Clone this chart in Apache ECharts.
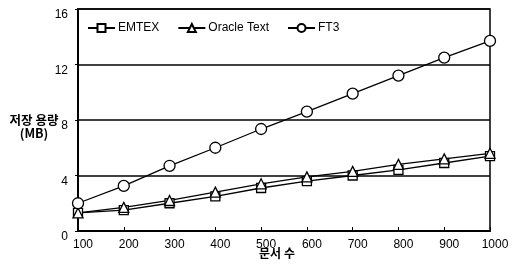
<!DOCTYPE html>
<html>
<head>
<meta charset="utf-8">
<script src="https://cdn.jsdelivr.net/npm/echarts@6/dist/echarts.min.js"></script>
<style>
  html, body { margin: 0; padding: 0; background: #fff; }
  #chart { width: 518px; height: 264px; }
</style>
</head>
<body>
<div id="chart"></div>
<script>
// 문서 수 (x축)
const docCounts = ['100', '200', '300', '400', '500', '600', '700', '800', '900', '1000'];
// 저장 용량 (MB)
const emtex = [1.3, 1.5, 2.0, 2.5, 3.1, 3.6, 4.0, 4.4, 4.9, 5.4];
const oracleText = [1.3, 1.7, 2.2, 2.8, 3.4, 3.9, 4.3, 4.8, 5.2, 5.6];
const ft3 = [2.0, 3.25, 4.7, 6.0, 7.35, 8.6, 9.9, 11.2, 12.5, 13.7];
const seriesNames = ['EMTEX', 'Oracle Text', 'FT3'];

const chart = echarts.init(document.getElementById('chart'));
const fontMain = 'Liberation Sans, Arial, sans-serif';
const fontKr = '"Noto Sans CJK KR", sans-serif';

function lineSeries(name, data, symbol, size) {
    return {
        name: name,
        type: 'line',
        data: data,
        symbol: symbol,
        symbolSize: size,
        lineStyle: { color: '#000', width: 1.3 },
        itemStyle: { color: '#fff', borderColor: '#000', borderWidth: 1.3 },
        emphasis: { disabled: true },
        z: 3
    };
}

const option = {
    animation: false,
    grid: {
        left: 78, right: 28, top: 9, bottom: 33,
        outerBoundsMode: 'none',
        containLabel: false,
        show: true, borderColor: '#000', borderWidth: 1.5
    },
    legend: {
        left: 82, top: 17,
        itemWidth: 27, itemHeight: 10, itemGap: 18,
        data: seriesNames,
        textStyle: { fontFamily: fontMain, fontSize: 12, color: '#000', padding: [0, 0, 0, -2] }
    },
    xAxis: {
        type: 'category',
        data: docCounts,
        boundaryGap: false,
        axisLine: { lineStyle: { color: '#000', width: 2 } },
        axisTick: { inside: true, length: 4, lineStyle: { color: '#000' } },
        axisLabel: { fontFamily: fontMain, fontSize: 12, color: '#000', margin: 8, padding: [0, 0, 0, 10] },
        splitLine: { show: false }
    },
    yAxis: {
        type: 'value',
        min: 0, max: 16, interval: 4,
        axisLine: { show: true, lineStyle: { color: '#000', width: 2 } },
        axisTick: { show: true, length: 3, lineStyle: { color: '#000' } },
        axisLabel: { fontFamily: fontMain, fontSize: 12, color: '#000', margin: 10, verticalAlign: 'top', lineHeight: 12, padding: [0, 0, 0, 0] },
        splitLine: { lineStyle: { color: '#000', width: 1.5 } }
    },
    // 축 이름
    graphic: [{
        type: 'text',
        x: 34, y: 114,
        style: {
            text: '저장 용량\n(MB)',
            fontFamily: fontKr, fontSize: 12.5, fontWeight: 'bold', fill: '#000',
            textAlign: 'center', align: 'center', lineHeight: 13
        }
    }, {
        type: 'text',
        x: 277, y: 247,
        style: {
            text: '문서 수',
            fontFamily: fontKr, fontSize: 12, fontWeight: 'bold', fill: '#000',
            textAlign: 'center', align: 'center', lineHeight: 13
        }
    }],
    series: [
        lineSeries(seriesNames[0], emtex, 'rect', 9),
        lineSeries(seriesNames[1], oracleText, 'triangle', 10),
        lineSeries(seriesNames[2], ft3, 'circle', 11)
    ]
};

chart.setOption(option);
</script>
</body>
</html>
